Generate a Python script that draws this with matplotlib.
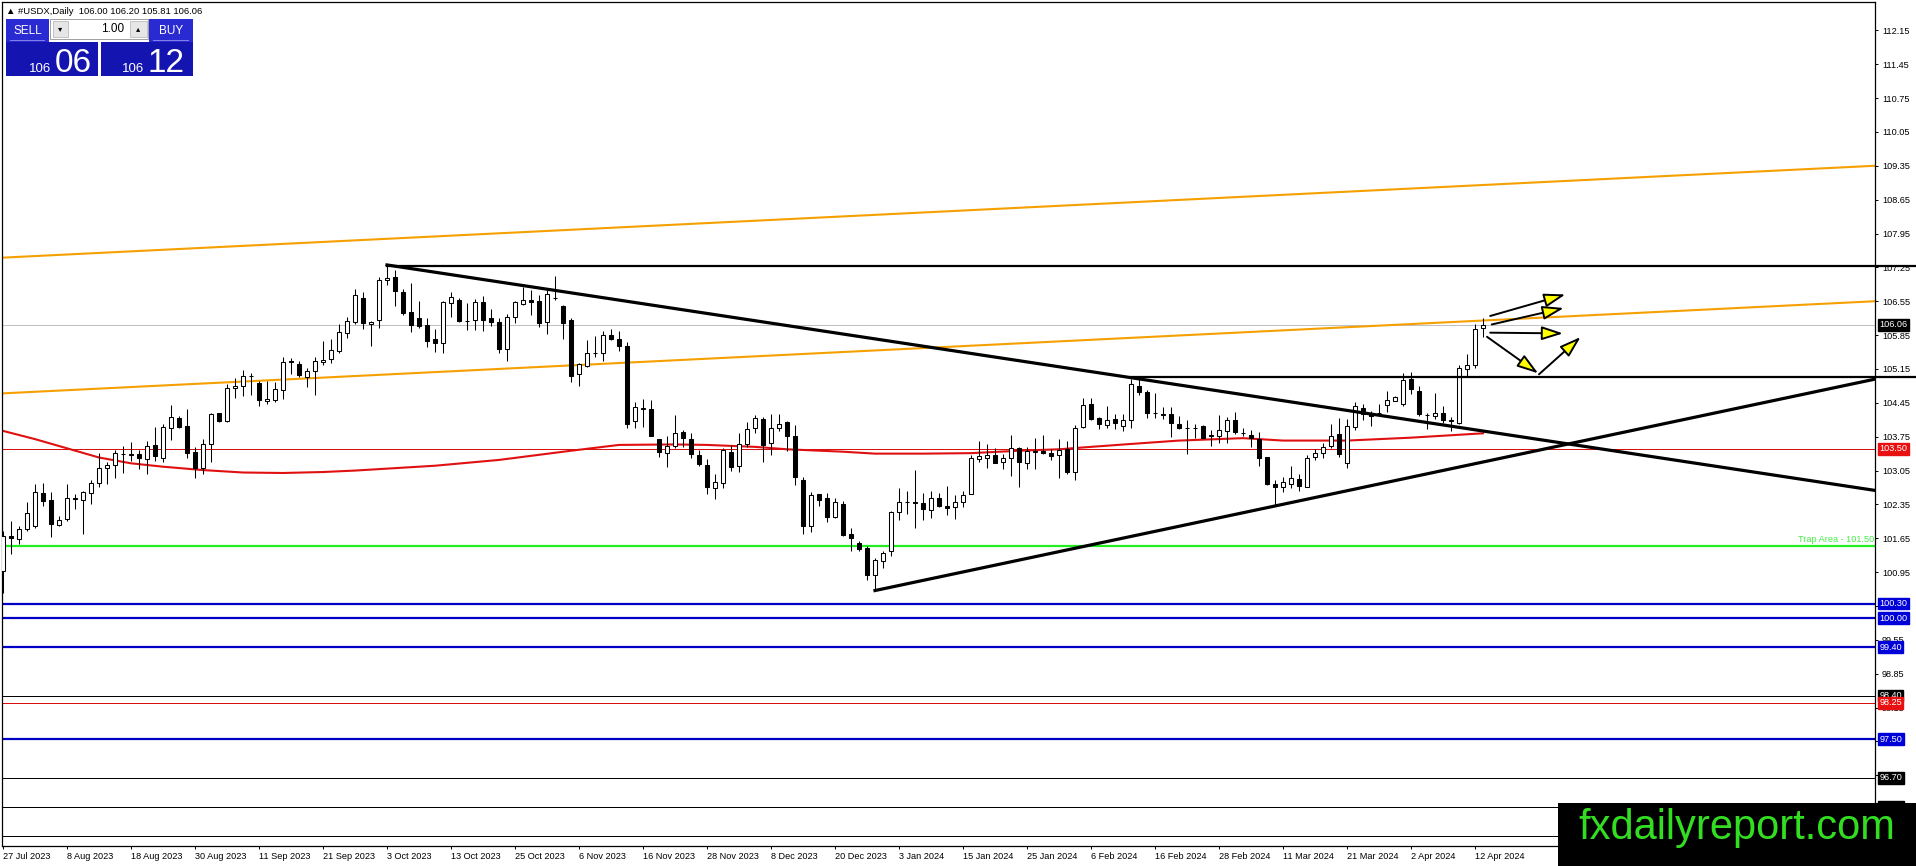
import numpy as np
import pandas as pd
import matplotlib
matplotlib.use("Agg")
import matplotlib.pyplot as plt
from matplotlib.patches import Rectangle, FancyArrowPatch

# ================= CHART DATA =================
# bars run 27 Jul 2023 .. 15 Apr 2024, weekdays without 25 Dec / 1 Jan
opens = [100.97, 101.70, 101.63, 101.84, 101.90, 102.58, 102.44, 101.93, 102.04, 102.49,
         102.44, 102.58, 102.79, 103.11, 103.16, 103.39, 103.38, 103.39, 103.29, 103.58,
         103.32, 103.93, 104.13, 103.97, 103.44, 103.11, 103.60, 104.24, 104.07, 104.76,
         104.79, 105.01, 104.85, 104.48, 104.51, 104.71, 105.31, 105.25, 104.99, 105.10,
         105.30, 105.36, 105.53, 105.89, 106.13, 106.62, 106.08, 106.16, 106.99, 107.06,
         106.74, 106.32, 106.20, 106.05, 105.76, 105.69, 106.52, 106.58, 106.15, 106.16,
         106.53, 106.20, 106.12, 105.56, 106.22, 106.49, 106.58, 106.56, 106.12, 106.62,
         106.46, 106.17, 105.05, 105.22, 105.48, 105.49, 105.85, 105.76, 105.63, 104.07,
         104.33, 104.32, 103.70, 103.42, 103.56, 103.85, 103.70, 103.37, 103.17, 102.69,
         102.79, 103.44, 103.15, 103.60, 103.93, 104.11, 103.61, 103.94, 104.06, 103.77,
         102.86, 101.91, 102.56, 102.48, 102.08, 102.35, 101.73, 101.55, 101.44, 100.89,
         101.19, 101.39, 102.19, 102.40, 102.39, 102.37, 102.24, 102.48, 102.32, 102.29,
         102.41, 102.56, 103.29, 103.32, 103.37, 103.23, 103.32, 103.51, 103.20, 103.44,
         103.46, 103.41, 103.37, 103.49, 103.03, 103.96, 104.42, 104.13, 103.99, 104.11,
         103.98, 104.10, 104.80, 104.68, 104.23, 104.22, 104.22, 104.01, 103.94, 103.92,
         103.98, 103.79, 103.76, 103.87, 104.09, 103.82, 103.79, 103.70, 103.33, 102.77,
         102.70, 102.78, 102.87, 102.71, 103.34, 103.41, 103.55, 103.80, 103.20, 103.96,
         104.34, 104.25, 104.23, 104.41, 104.49, 104.42, 104.94, 104.69, 104.20, 104.17,
         104.25, 104.09, 104.04, 105.15, 105.23, 106.00]
highs = [101.80, 102.01, 101.90, 102.39, 102.77, 102.79, 102.60, 102.11, 102.77, 102.56,
         102.63, 102.86, 103.42, 103.22, 103.48, 103.55, 103.64, 103.48, 103.66, 103.96,
         104.01, 104.41, 104.18, 104.32, 103.53, 103.70, 104.25, 104.25, 104.84, 104.97,
         105.13, 105.06, 104.91, 104.91, 104.89, 105.40, 105.37, 105.32, 105.17, 105.39,
         105.72, 105.76, 106.08, 106.23, 106.81, 106.74, 106.15, 107.05, 107.30, 107.20,
         106.81, 106.93, 106.56, 106.20, 105.98, 106.56, 106.74, 106.62, 106.51, 106.60,
         106.65, 106.39, 106.20, 106.29, 106.55, 106.85, 106.79, 106.67, 106.78, 107.08,
         106.48, 106.20, 105.27, 105.75, 105.83, 105.94, 105.98, 105.93, 105.70, 104.46,
         104.53, 104.51, 103.71, 103.77, 104.20, 103.89, 103.82, 103.47, 103.29, 102.97,
         103.51, 103.58, 103.82, 104.05, 104.20, 104.15, 104.22, 104.22, 104.08, 104.00,
         102.91, 102.60, 102.57, 102.58, 102.49, 102.42, 101.87, 101.59, 101.49, 101.25,
         101.39, 102.22, 102.69, 102.62, 103.06, 102.58, 102.62, 102.58, 102.73, 102.55,
         102.63, 103.37, 103.67, 103.60, 103.51, 103.40, 103.79, 103.53, 103.54, 103.72,
         103.79, 103.49, 103.71, 103.67, 103.99, 104.56, 104.56, 104.15, 104.39, 104.22,
         104.22, 104.94, 104.94, 104.71, 104.65, 104.36, 104.37, 104.17, 104.09, 104.01,
         103.99, 103.89, 104.20, 104.16, 104.27, 103.92, 103.89, 103.84, 103.34, 102.85,
         102.91, 103.15, 102.97, 103.38, 103.49, 103.61, 104.02, 104.13, 104.11, 104.47,
         104.42, 104.29, 104.42, 104.70, 104.60, 105.06, 105.08, 104.80, 104.23, 104.65,
         104.39, 104.15, 105.24, 105.46, 106.08, 106.20]
lows = [100.52, 101.32, 101.53, 101.80, 101.87, 102.32, 101.68, 101.91, 102.01, 102.25,
        101.73, 102.35, 102.72, 102.78, 102.90, 103.01, 103.25, 103.09, 102.97, 103.25,
        103.22, 103.69, 103.94, 103.32, 102.89, 102.97, 103.22, 104.05, 104.05, 104.55,
        104.60, 104.61, 104.39, 104.42, 104.47, 104.53, 105.05, 104.98, 104.77, 104.62,
        105.23, 105.27, 105.47, 105.80, 106.08, 105.98, 105.62, 105.99, 106.89, 106.46,
        106.27, 105.91, 106.00, 105.61, 105.51, 105.49, 106.23, 106.13, 105.96, 105.96,
        105.93, 106.03, 105.47, 105.31, 106.09, 106.48, 106.27, 106.01, 105.87, 106.58,
        105.76, 104.89, 104.80, 105.20, 105.40, 105.32, 105.74, 105.53, 103.94, 103.94,
        103.96, 103.76, 103.33, 103.13, 103.51, 103.53, 103.31, 103.15, 102.57, 102.46,
        102.69, 103.04, 103.02, 103.53, 103.82, 103.22, 103.38, 103.87, 103.46, 102.75,
        101.73, 101.79, 102.32, 101.98, 102.06, 101.70, 101.39, 101.39, 100.78, 100.57,
        101.03, 101.28, 102.03, 102.15, 101.87, 102.03, 102.06, 102.29, 102.13, 102.04,
        102.29, 102.56, 103.22, 103.10, 103.20, 103.08, 102.94, 102.72, 103.08, 103.09,
        103.39, 103.27, 102.89, 102.97, 102.85, 103.94, 104.10, 103.91, 103.94, 103.91,
        103.86, 103.93, 104.61, 104.13, 104.13, 104.11, 103.75, 103.91, 103.39, 103.72,
        103.72, 103.56, 103.61, 103.62, 103.80, 103.76, 103.53, 103.15, 102.75, 102.32,
        102.60, 102.69, 102.62, 102.70, 103.27, 103.31, 103.51, 103.34, 103.11, 103.89,
        104.10, 103.98, 104.20, 104.27, 104.48, 104.39, 104.63, 104.17, 103.91, 104.11,
        104.04, 103.86, 104.01, 104.98, 105.18, 105.81]
closes = [101.70, 101.66, 101.84, 102.18, 102.60, 102.42, 101.95, 102.02, 102.49, 102.46,
          102.60, 102.80, 103.11, 103.16, 103.41, 103.40, 103.39, 103.31, 103.55, 103.35,
          103.95, 104.15, 103.96, 103.42, 103.11, 103.60, 104.22, 104.07, 104.76, 104.80,
          105.01, 105.00, 104.51, 104.53, 104.73, 105.29, 105.30, 105.03, 105.10, 105.31,
          105.34, 105.54, 105.91, 106.15, 106.67, 106.10, 106.13, 106.99, 107.04, 106.76,
          106.30, 106.06, 106.03, 105.72, 105.69, 106.54, 106.63, 106.15, 106.14, 106.54,
          106.17, 106.12, 105.56, 106.23, 106.53, 106.58, 106.53, 106.09, 106.69, 106.61,
          106.09, 105.01, 105.25, 105.48, 105.48, 105.85, 105.76, 105.62, 104.02, 104.37,
          104.33, 103.77, 103.44, 103.56, 103.82, 103.72, 103.39, 103.18, 102.70, 102.82,
          103.47, 103.13, 103.60, 103.91, 104.13, 103.58, 103.94, 104.02, 103.77, 102.91,
          101.91, 102.55, 102.44, 102.08, 102.39, 101.71, 101.66, 101.42, 100.90, 101.20,
          101.34, 102.19, 102.41, 102.40, 102.38, 102.25, 102.48, 102.31, 102.27, 102.39,
          102.55, 103.31, 103.35, 103.37, 103.20, 103.32, 103.51, 103.22, 103.46, 103.44,
          103.42, 103.35, 103.47, 103.03, 103.93, 104.40, 104.11, 104.01, 104.09, 104.04,
          104.09, 104.84, 104.67, 104.23, 104.24, 104.20, 104.03, 103.94, 103.92, 103.93,
          103.73, 103.76, 103.89, 104.09, 103.84, 103.83, 103.73, 103.32, 102.77, 102.70,
          102.82, 102.89, 102.73, 103.31, 103.42, 103.53, 103.76, 103.39, 103.98, 104.38,
          104.22, 104.18, 104.23, 104.51, 104.58, 104.92, 104.73, 104.22, 104.19, 104.25,
          104.09, 104.08, 105.16, 105.23, 105.98, 106.06]

# red moving average, read at a few bars
ma_bars = [0, 4, 8, 12, 16, 20, 25, 30, 35, 40, 44, 48, 54, 62, 71, 77, 84, 88, 94, 98,
           105, 109, 115, 121, 127, 132, 136, 141, 147, 155, 160, 168, 176, 185]
ma_vals = [103.87, 103.70, 103.51, 103.32, 103.20, 103.13, 103.06, 103.01, 103.00, 103.02,
           103.05, 103.09, 103.15, 103.27, 103.46, 103.58, 103.59, 103.58, 103.54, 103.49,
           103.44, 103.40, 103.40, 103.41, 103.46, 103.49, 103.54, 103.60, 103.67, 103.72,
           103.67, 103.67, 103.73, 103.82]

date_labels = ["27 Jul 2023", "8 Aug 2023", "18 Aug 2023", "30 Aug 2023", "11 Sep 2023",
               "21 Sep 2023", "3 Oct 2023", "13 Oct 2023", "25 Oct 2023", "6 Nov 2023",
               "16 Nov 2023", "28 Nov 2023", "8 Dec 2023", "20 Dec 2023", "3 Jan 2024",
               "15 Jan 2024", "25 Jan 2024", "6 Feb 2024", "16 Feb 2024", "28 Feb 2024",
               "11 Mar 2024", "21 Mar 2024", "2 Apr 2024", "12 Apr 2024"]

price_ticks = [112.15, 111.45, 110.75, 110.05, 109.35, 108.65, 107.95, 107.25, 106.55,
               105.85, 105.15, 104.45, 103.75, 103.05, 102.35, 101.65, 100.95, 100.25,
               99.55, 98.85, 98.15, 97.45, 96.75, 96.05, 95.35]

# drawn objects: (bar, price) anchors
trend_down = [(48, 107.30), (234, 102.64)]
trend_up = [(109, 100.57), (234, 104.94)]
orange_top = [(-0.125, 107.45), (234, 109.35)]
orange_low = [(-0.125, 104.645), (234, 106.55)]
res_top = [(48, 107.28), (240, 107.28)]
res_mid = [(141, 104.98), (240, 104.98)]
blue_levels = [100.30, 100.00, 99.40, 97.50]
black_levels = [98.40, 96.70, 96.10, 95.50]
red_levels = [103.50, 98.25]
trap_level = 101.50
bid_price = 106.06

arrow_from = [(185.9, 106.245), (186.1, 106.07), (185.9, 105.90), (185.5, 105.815), (192.0, 105.04)]
arrow_to = [(195.3, 106.69), (195.1, 106.41), (195.0, 105.885), (191.9, 105.06), (197.2, 105.81)]

price_tags = [(106.06, "black"), (103.50, "#e81010"), (100.30, "#0000d8"), (100.00, "#0000d8"),
              (99.40, "#0000d8"), (98.40, "black"), (98.25, "#e81010"), (97.50, "#0000d8"),
              (96.70, "black"), (96.10, "black"), (95.50, "black")]
# ===================================================================================

W, H = 1916, 866


def px_rect(fig, x0, y0, x1, y1, color, ec=None, lw=0):
    # rectangle in screen pixels (top-left origin)
    r = Rectangle((x0 / W, 1 - y1 / H), (x1 - x0) / W, (y1 - y0) / H,
                  transform=fig.transFigure, facecolor=color,
                  edgecolor=ec if ec else color, linewidth=lw)
    fig.add_artist(r)


def px_text(fig, x, y, s, **kw):
    fig.text(x / W, 1 - y / H, s, **kw)


def draw_chart():
    plt.rcParams['font.family'] = ['Liberation Sans', 'DejaVu Sans']

    fig = plt.figure(figsize=(W / 100, H / 100), dpi=100)
    fig.patch.set_facecolor("white")
    ax = fig.add_axes([2 / W, 20 / H, 1873 / W, 844 / H])
    ax.set_xlim(-0.125, 234)
    ax.set_ylim(95.29, 112.735)

    bars = np.arange(len(closes))
    o = np.array(opens)
    c = np.array(closes)

    # 1. horizontal levels
    ax.axhline(bid_price, color="#c0c0c0", lw=0.72, zorder=1)
    for lv in red_levels:
        ax.axhline(lv, color="#d81010", lw=0.72, zorder=1)
    for lv in black_levels:
        ax.axhline(lv, color="black", lw=0.72, zorder=1)
    for lv in blue_levels:
        ax.axhline(lv, color="#0000c8", lw=1.6, zorder=1)
    ax.axhline(trap_level, color="#22ee22", lw=1.6, zorder=1)
    ax.text(0.9995, trap_level + 0.04, "Trap Area - 101.50", transform=ax.get_yaxis_transform(),
            ha="right", va="bottom", fontsize=6.6, color="#44ee44")

    # 2. orange channel + moving average
    for ln in (orange_top, orange_low):
        ax.plot([p[0] for p in ln], [p[1] for p in ln], color="#f5a000", lw=1.5, zorder=2)
    ax.plot(ma_bars, ma_vals, color="#e01010", lw=1.5, zorder=2)

    # 3. candles
    ax.vlines(bars, lows, highs, color="black", lw=0.75, zorder=3)
    body_h = np.maximum(np.abs(c - o), 0.008)
    fills = np.where(c >= o, "white", "black")
    ax.bar(bars, body_h, bottom=np.minimum(o, c), width=0.58, color=fills,
           edgecolor="black", linewidth=0.75, zorder=4)

    # 4. trend lines
    for ln in (trend_down, trend_up):
        ax.plot([p[0] for p in ln], [p[1] for p in ln], color="black", lw=2.3, zorder=5)
    for ln in (res_top, res_mid):
        ax.plot([p[0] for p in ln], [p[1] for p in ln], color="black", lw=1.6,
                zorder=5, clip_on=False)

    # 5. scenario arrows
    for a, b in zip(arrow_from, arrow_to):
        arr = FancyArrowPatch(a, b, arrowstyle="-|>,head_length=1.3,head_width=0.42",
                              mutation_scale=10, facecolor="#ffff00", edgecolor="black",
                              linewidth=1.4, shrinkA=0, shrinkB=0, zorder=6)
        ax.add_patch(arr)

    # 6. axes styling like MT4
    for side in ("top", "right", "bottom", "left"):
        ax.spines[side].set_linewidth(0.9)
    ax.yaxis.tick_right()
    ax.set_yticks(price_ticks)
    ax.set_yticklabels([f"{v:.2f}" for v in price_ticks])
    ax.tick_params(axis="y", length=2.5, width=0.7, pad=2.5, labelsize=6.6)
    ax.set_xticks(np.arange(len(date_labels)) * 8)
    ax.set_xticklabels(date_labels, ha="left")
    ax.tick_params(axis="x", length=2.5, width=0.7, pad=1.5, labelsize=6.6)

    for val, col in price_tags:
        ax.annotate(f"{val:.2f}", xy=(1, val), xycoords=("axes fraction", "data"),
                    xytext=(3.2, 0), textcoords="offset points", ha="left", va="center",
                    fontsize=6.6, color="white", annotation_clip=False, zorder=7,
                    bbox=dict(boxstyle="square,pad=0.14", fc=col, ec=col))

    # 7. header text and one-click trading panel
    px_text(fig, 6, 11, "\u25b2 #USDX,Daily  106.00 106.20 105.81 106.06",
            fontsize=6.8, va="center", ha="left", color="black")
    px_rect(fig, 6, 19, 49, 42, "#2a2ad2")
    px_rect(fig, 149, 19, 193, 42, "#2a2ad2")
    px_rect(fig, 10, 40.5, 45, 41.3, "#8080e8")
    px_rect(fig, 153, 40.5, 189, 41.3, "#8080e8")
    px_rect(fig, 50, 19, 148, 39, "white", ec="#a0a0a0", lw=0.7)
    px_rect(fig, 53, 21, 68, 37, "#e6e6e6", ec="#b0b0b0", lw=0.5)
    px_rect(fig, 130, 21, 147, 37, "#e6e6e6", ec="#b0b0b0", lw=0.5)
    px_text(fig, 60.5, 29, "\u25be", fontsize=6, ha="center", va="center",
            family=["DejaVu Sans"])
    px_text(fig, 138.5, 29, "\u25b4", fontsize=6, ha="center", va="center",
            family=["DejaVu Sans"])
    px_text(fig, 124, 29.5, "1.00", fontsize=8.5, ha="right", va="center")
    px_text(fig, 27.5, 31, "SELL", fontsize=8.5, ha="center", va="center", color="white")
    px_text(fig, 171, 31, "BUY", fontsize=8.5, ha="center", va="center", color="white")
    px_rect(fig, 6, 42.5, 98, 76, "#1414b0")
    px_rect(fig, 101, 42.5, 193, 76, "#1414b0")
    px_text(fig, 29, 72, "106", fontsize=9.5, ha="left", va="baseline", color="white")
    px_text(fig, 55, 72, "06", fontsize=24, ha="left", va="baseline", color="white")
    px_text(fig, 122, 72, "106", fontsize=9.5, ha="left", va="baseline", color="white")
    px_text(fig, 148, 72, "12", fontsize=24, ha="left", va="baseline", color="white")

    # 8. watermark
    px_rect(fig, 1558, 803, 1916, 866, "black")
    px_text(fig, 1737, 839, "fxdailyreport.com", fontsize=30, ha="center", va="baseline",
            color="#33dd22")

    fig.savefig("out.png", dpi=100, facecolor="white")


if __name__ == "__main__":
    draw_chart()
